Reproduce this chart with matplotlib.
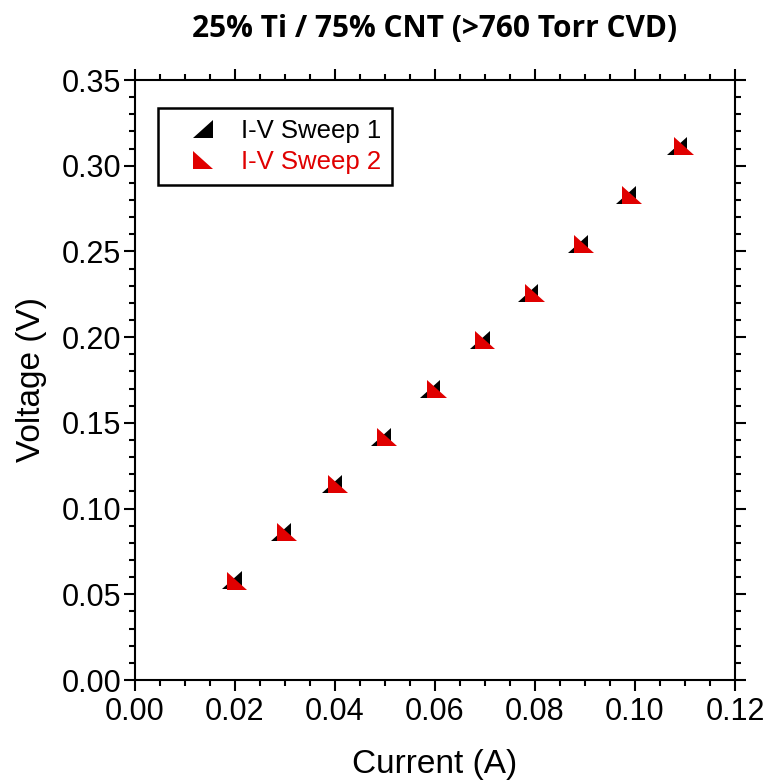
import matplotlib
matplotlib.use("Agg")
import matplotlib.pyplot as plt
from matplotlib.path import Path
from matplotlib.ticker import MultipleLocator, FormatStrFormatter

# I-V sweep measurements (current in A, voltage in V)
current_1 = [0.0194, 0.0292, 0.0394, 0.0492, 0.0590, 0.0690, 0.0786, 0.0886, 0.0982, 0.1084]
voltage_1 = [0.0583, 0.0863, 0.1143, 0.1417, 0.1700, 0.1983, 0.2260, 0.2546, 0.2829, 0.3115]
current_2 = [0.0204, 0.0304, 0.0405, 0.0504, 0.0603, 0.0700, 0.0799, 0.0898, 0.0994, 0.1098]
voltage_2 = [0.0580, 0.0866, 0.1143, 0.1415, 0.1700, 0.1985, 0.2258, 0.2546, 0.2829, 0.3113]

series_labels = ["I-V Sweep 1", "I-V Sweep 2"]
title_text = "25% Ti / 75% CNT (>760 Torr CVD)"
x_label = "Current (A)"
y_label = "Voltage (V)"

RED = "#e00000"

# right-angle triangle markers
tri_right = Path([(-1, -0.9), (1, -0.9), (1, 0.9), (-1, -0.9)],
                 [Path.MOVETO, Path.LINETO, Path.LINETO, Path.CLOSEPOLY])
tri_left = Path([(-1, 0.9), (-1, -0.9), (1, -0.9), (-1, 0.9)],
                [Path.MOVETO, Path.LINETO, Path.LINETO, Path.CLOSEPOLY])

plt.rcParams['font.family'] = ['Liberation Sans', 'DejaVu Sans']

fig = plt.figure(figsize=(7.65, 7.80), dpi=100)
ax = fig.add_axes([135 / 765, 1 - 680 / 780, 600 / 765, 600 / 780])

ax.plot(current_1, voltage_1, linestyle='none', marker=tri_right, markersize=14,
        color='black', markeredgewidth=0, label=series_labels[0], zorder=3)
ax.plot(current_2, voltage_2, linestyle='none', marker=tri_left, markersize=14,
        color=RED, markeredgewidth=0, label=series_labels[1], zorder=4)

ax.set_xlim(0, 0.12)
ax.set_ylim(0, 0.35)
ax.xaxis.set_major_locator(MultipleLocator(0.02))
ax.xaxis.set_minor_locator(MultipleLocator(0.005))
ax.yaxis.set_major_locator(MultipleLocator(0.05))
ax.yaxis.set_minor_locator(MultipleLocator(0.01))
ax.xaxis.set_major_formatter(FormatStrFormatter('%.2f'))
ax.yaxis.set_major_formatter(FormatStrFormatter('%.2f'))

for s in ax.spines.values():
    s.set_linewidth(1.5)
ax.tick_params(which='both', direction='out', top=True, right=True,
               width=1.5, labelsize=22)
ax.tick_params(which='major', length=8)
ax.tick_params(which='minor', length=4.5)
ax.tick_params(axis='y', which='major', pad=2)
ax.tick_params(axis='x', which='major', pad=4)

ax.set_xlabel(x_label, fontsize=24, va='center')
ax.set_ylabel(y_label, fontsize=24, va='center')
ax.xaxis.set_label_coords(0.5, -85 / 600)
ax.yaxis.set_label_coords(-103 / 600, 0.5)

fig.text(435 / 765, 1 - 29 / 780, title_text, ha='center', va='center',
         fontsize=21.5, fontweight='bold', family='Open Sans')

leg = ax.legend(loc='upper left', bbox_to_anchor=(23 / 600, 572 / 600),
                borderaxespad=0, fontsize=18.5, frameon=True, fancybox=False,
                framealpha=1, handletextpad=0.14, borderpad=0.42,
                labelspacing=0.28, handlelength=2.68)
leg.get_frame().set_edgecolor('black')
leg.get_frame().set_linewidth(1.8)
leg.get_texts()[1].set_color(RED)

fig.savefig("out.png", dpi=100)
